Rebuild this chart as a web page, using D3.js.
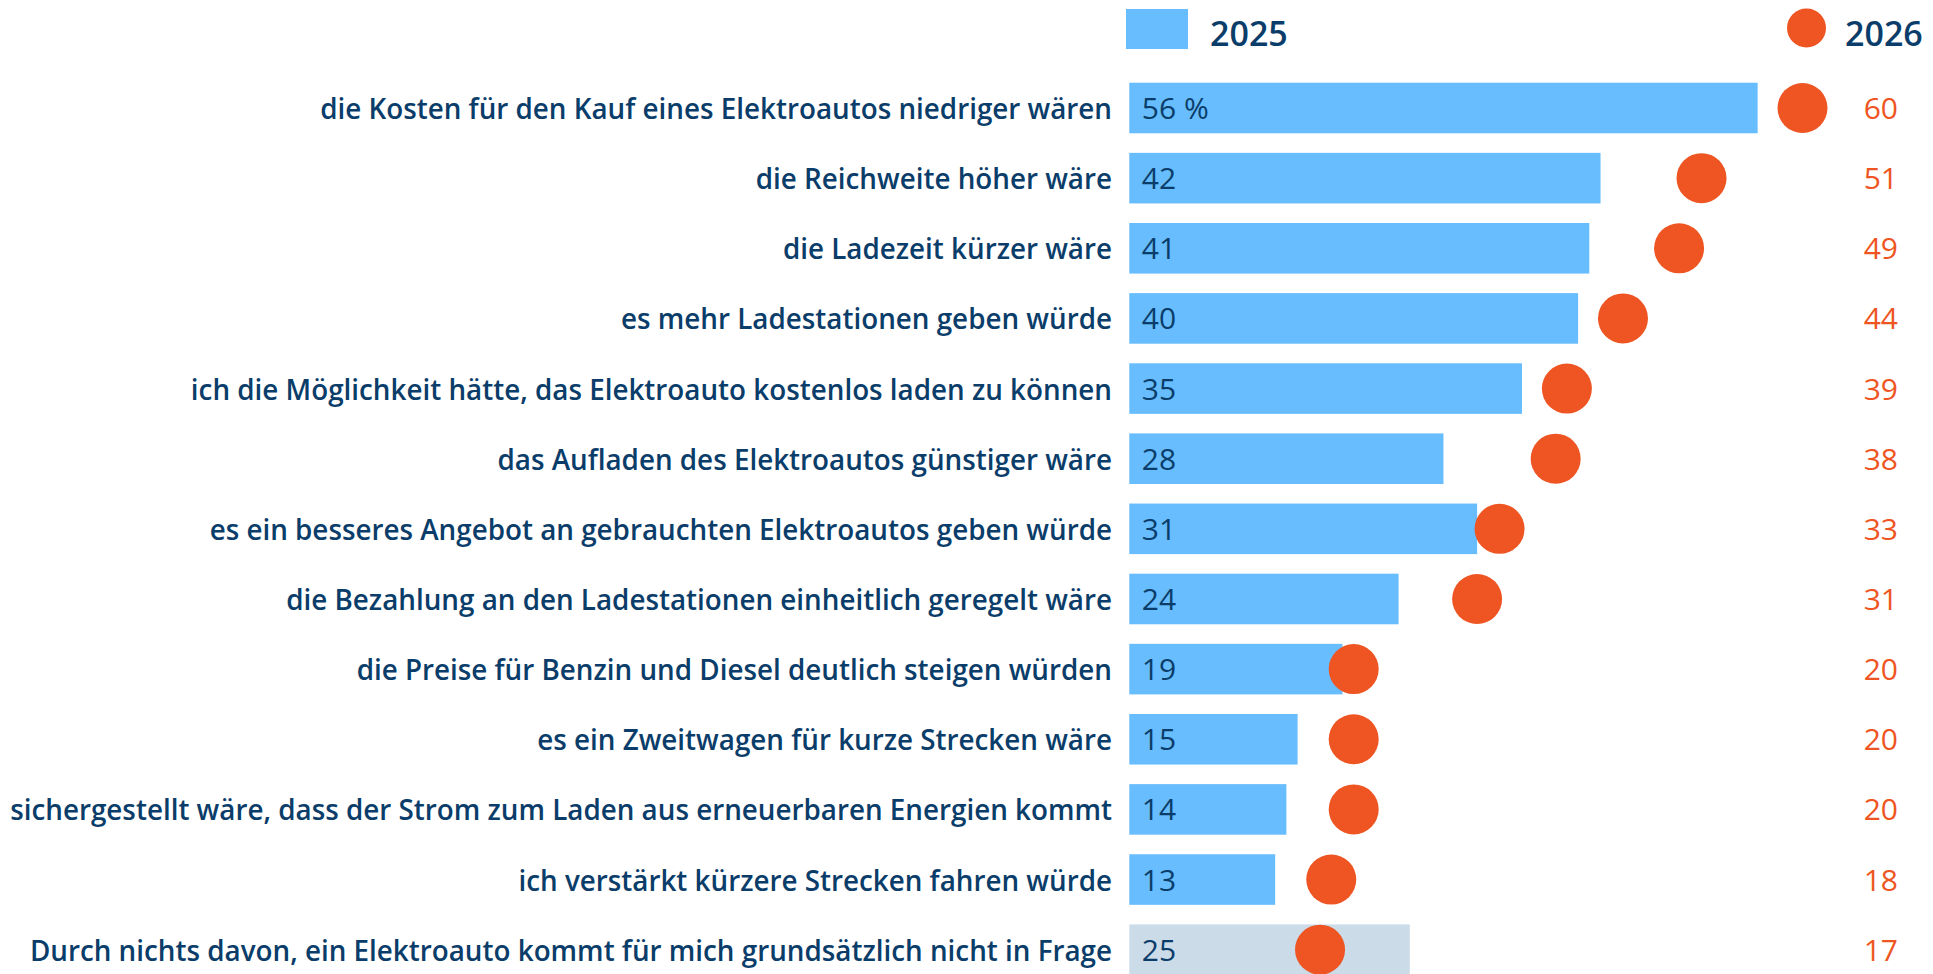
<!DOCTYPE html>
<html>
<head>
<meta charset="utf-8">
<script src="https://cdn.jsdelivr.net/npm/d3@7"></script>
<style>
  html, body { margin: 0; padding: 0; background: #ffffff; }
  svg { display: block; }
  text { font-family: "Open Sans", "Noto Sans", sans-serif; }
</style>
</head>
<body>
<svg id="chart" width="1933" height="974"></svg>
<script>
const categories = [
  "die Kosten für den Kauf eines Elektroautos niedriger wären",
  "die Reichweite höher wäre",
  "die Ladezeit kürzer wäre",
  "es mehr Ladestationen geben würde",
  "ich die Möglichkeit hätte, das Elektroauto kostenlos laden zu können",
  "das Aufladen des Elektroautos günstiger wäre",
  "es ein besseres Angebot an gebrauchten Elektroautos geben würde",
  "die Bezahlung an den Ladestationen einheitlich geregelt wäre",
  "die Preise für Benzin und Diesel deutlich steigen würden",
  "es ein Zweitwagen für kurze Strecken wäre",
  "sichergestellt wäre, dass der Strom zum Laden aus erneuerbaren Energien kommt",
  "ich verstärkt kürzere Strecken fahren würde",
  "Durch nichts davon, ein Elektroauto kommt für mich grundsätzlich nicht in Frage"
];
const values2025 = [56, 42, 41, 40, 35, 28, 31, 24, 19, 15, 14, 13, 25];
const values2026 = [60, 51, 49, 44, 39, 38, 33, 31, 20, 20, 20, 18, 17];
const seriesNames = ["2025", "2026"];

const rows = categories.map((c, i) => ({ cat: c, v25: values2025[i], v26: values2026[i], last: i === categories.length - 1 }));

const navy = "#0b3d6a";
const blue = "#67bdfe";
const grey = "#cbdbe8";
const orange = "#ee5522";

const svg = d3.select("#chart");

const x = d3.scaleLinear().domain([0, 60]).range([1129.3, 1129.3 + 60 * 11.22]);
const step = 70.14;
const y0 = 108 - step / 2;
const y = d3.scaleBand().domain(categories).range([y0, y0 + step * categories.length])
  .paddingInner(0.279).paddingOuter(0.1395);

// bars
svg.append("g").selectAll("rect").data(rows).join("rect")
  .attr("x", x(0))
  .attr("y", d => y(d.cat))
  .attr("width", d => x(d.v25) - x(0))
  .attr("height", y.bandwidth())
  .attr("fill", d => d.last ? grey : blue);

// bar value labels
svg.append("g").selectAll("text").data(rows).join("text")
  .attr("x", x(0) + 12.5)
  .attr("y", d => y(d.cat) + y.bandwidth() / 2 + 11)
  .attr("fill", navy)
  .attr("font-size", 30)
  .attr("font-weight", 500)
  .text((d, i) => i === 0 ? d.v25 + " %" : d.v25);

// dots
svg.append("g").selectAll("circle").data(rows).join("circle")
  .attr("cx", d => x(d.v26))
  .attr("cy", d => y(d.cat) + y.bandwidth() / 2)
  .attr("r", 25)
  .attr("fill", orange);

// right value labels
svg.append("g").selectAll("text").data(rows).join("text")
  .attr("x", 1898)
  .attr("y", d => y(d.cat) + y.bandwidth() / 2 + 11)
  .attr("text-anchor", "end")
  .attr("fill", orange)
  .attr("font-size", 30)
  .text(d => d.v26);

// category labels (condensed to match)
const labels = svg.append("g").selectAll("text").data(rows).join("text")
  .attr("text-anchor", "end")
  .attr("fill", navy)
  .attr("font-size", 28)
  .attr("font-weight", 600)
  .text(d => d.cat);
const nodes = labels.nodes();
const sxA = 797 / nodes[0].getComputedTextLength();
const sxB = 1096 / nodes[10].getComputedTextLength();
const sx = Math.min((sxA + sxB) / 2, 1104 / nodes[10].getComputedTextLength());
labels.attr("transform", d => `translate(1112, ${y(d.cat) + y.bandwidth() / 2 + 11}) scale(${sx}, 1)`);

// legend
const lg = svg.append("g");
lg.append("rect").attr("x", 1126).attr("y", 9).attr("width", 62).attr("height", 40).attr("fill", blue);
lg.append("text").attr("x", 1210).attr("y", 46).attr("fill", navy).attr("font-size", 34).attr("font-weight", 600).text(seriesNames[0]);
lg.append("circle").attr("cx", 1806.5).attr("cy", 28).attr("r", 19.5).attr("fill", orange);
lg.append("text").attr("x", 1845).attr("y", 46).attr("fill", navy).attr("font-size", 34).attr("font-weight", 600).text(seriesNames[1]);
</script>
</body>
</html>
